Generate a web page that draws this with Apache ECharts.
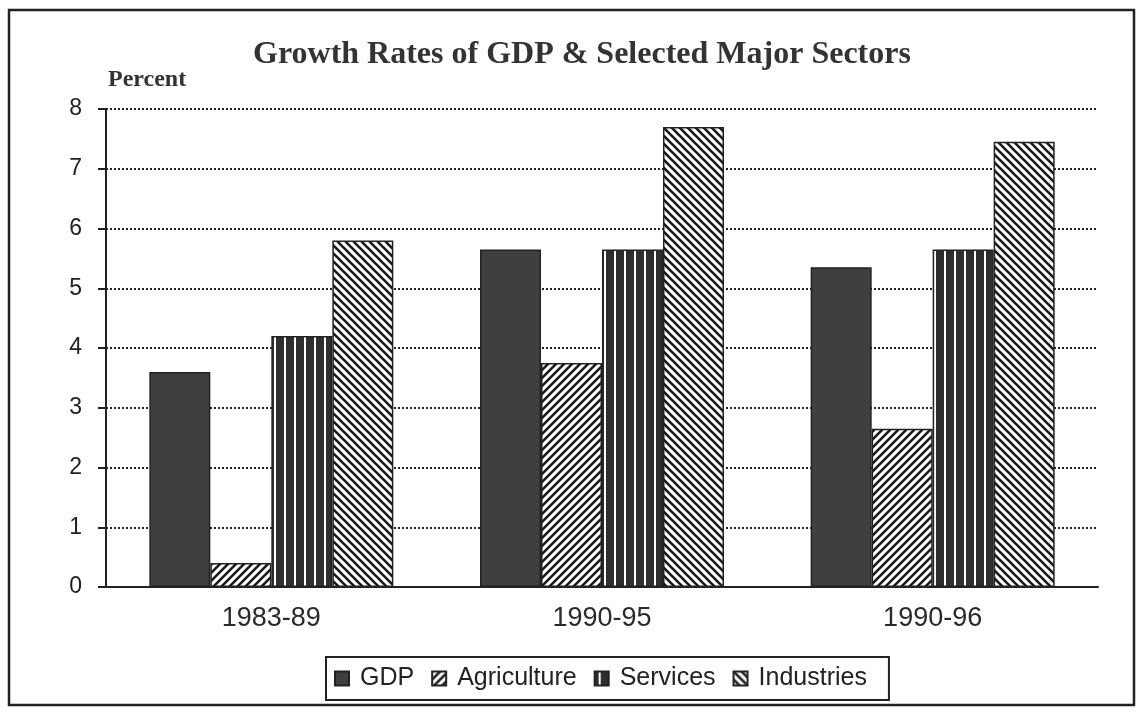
<!DOCTYPE html>
<html>
<head>
<meta charset="utf-8">
<script src="https://cdn.jsdelivr.net/npm/echarts@6/dist/echarts.min.js"></script>
<style>html,body{margin:0;padding:0;background:#fff;}#c{width:1141px;height:712px;}</style>
</head>
<body>
<div id="c"></div>
<script>
const categories = ['1983-89', '1990-95', '1990-96'];
const gdp = [3.6, 5.65, 5.35];
const agriculture = [0.4, 3.75, 2.65];
const services = [4.2, 5.65, 5.65];
const industries = [5.8, 7.7, 7.45];
const yTicks = [0, 1, 2, 3, 4, 5, 6, 7, 8];

function pattern(kind) {
  const c = document.createElement('canvas');
  const ctx = c.getContext('2d');
  if (kind === 'vert') {
    c.width = 10; c.height = 10;
    ctx.fillStyle = '#2e2e2e'; ctx.fillRect(0, 0, 10, 10);
    ctx.fillStyle = '#fff'; ctx.fillRect(4, 0, 2, 10);
  } else {
    const s = 8;
    c.width = s; c.height = s;
    ctx.fillStyle = '#fff'; ctx.fillRect(0, 0, s, s);
    ctx.strokeStyle = '#1a1a1a'; ctx.lineWidth = 2.6;
    ctx.beginPath();
    if (kind === 'fwd') {
      ctx.moveTo(-2, s + 2); ctx.lineTo(s + 2, -2);
      ctx.moveTo(-2, 2); ctx.lineTo(2, -2);
      ctx.moveTo(s - 2, s + 2); ctx.lineTo(s + 2, s - 2);
    } else {
      ctx.moveTo(-2, -2); ctx.lineTo(s + 2, s + 2);
      ctx.moveTo(s - 2, -2); ctx.lineTo(s + 2, 2);
      ctx.moveTo(-2, s - 2); ctx.lineTo(2, s + 2);
    }
    ctx.stroke();
  }
  return { image: c, repeat: 'repeat' };
}

const chart = echarts.init(document.getElementById('c'), null, { renderer: 'canvas' });
const border = { borderColor: '#222', borderWidth: 1.5 };
chart.setOption({
  backgroundColor: '#fff',
  animation: false,
  title: {
    text: 'Growth Rates of GDP & Selected Major Sectors',
    left: 248, top: 34,
    textStyle: { fontFamily: 'Liberation Serif', fontWeight: 'bold', fontSize: 32, color: '#333' }
  },
  graphic: [
    { type: 'rect', shape: { x: 9, y: 10, width: 1125, height: 695 }, style: { fill: 'none', stroke: '#222', lineWidth: 2.5 }, silent: true },
    { type: 'text', left: 108, top: 68, style: { text: 'Percent', font: 'bold 24px "Liberation Serif"', fill: '#333' } }
  ],
  legend: {
    bottom: 12, left: 326,
    itemWidth: 14, itemHeight: 14, itemGap: 17,
    padding: [9, 22, 9, 8],
    borderColor: '#222', borderWidth: 2,
    icon: 'rect',
    textStyle: { fontFamily: 'Liberation Sans', fontSize: 25, color: '#222', padding: [0, 0, 0, 6] },
    data: ['GDP', 'Agriculture', 'Services', 'Industries']
  },
  grid: { left: 106, right: 43, top: 109, bottom: 125 },
  xAxis: {
    type: 'category', data: categories,
    axisLine: { lineStyle: { color: '#222', width: 2 } },
    axisTick: { show: false },
    axisLabel: { fontFamily: 'Liberation Sans', fontSize: 27, color: '#2a2a2a', margin: 18 }
  },
  yAxis: {
    type: 'value', min: yTicks[0], max: yTicks[yTicks.length - 1], interval: 1,
    axisLine: { show: true, lineStyle: { color: '#222', width: 2 } },
    axisTick: { show: true, length: 8, lineStyle: { color: '#222', width: 2 } },
    axisLabel: { fontFamily: 'Liberation Sans', fontSize: 23, color: '#222', margin: 24 },
    splitLine: { lineStyle: { color: '#222', width: 2, type: [2, 2] } }
  },
  series: [
    { name: 'GDP', type: 'bar', data: gdp, barWidth: 61, barGap: '0%', itemStyle: Object.assign({ color: '#3f3f3f' }, border) },
    { name: 'Agriculture', type: 'bar', data: agriculture, barWidth: 61, barGap: '0%', itemStyle: Object.assign({ color: pattern('fwd') }, border) },
    { name: 'Services', type: 'bar', data: services, barWidth: 61, barGap: '0%', itemStyle: Object.assign({ color: pattern('vert') }, border) },
    { name: 'Industries', type: 'bar', data: industries, barWidth: 61, barGap: '0%', itemStyle: Object.assign({ color: pattern('back') }, border) }
  ]
});
</script>
</body>
</html>
